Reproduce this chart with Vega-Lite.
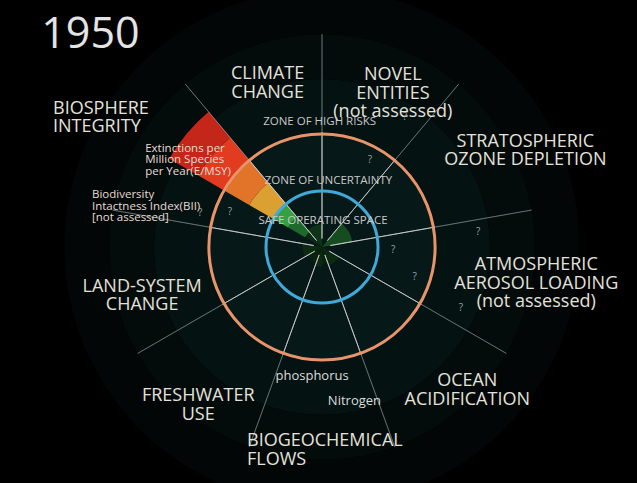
{
  "$schema": "https://vega.github.io/schema/vega-lite/v6.json",
  "width": 637,
  "height": 483,
  "autosize": {"type": "fit", "contains": "padding"},
  "padding": {"left": 7, "top": 11, "right": 0, "bottom": 0},
  "background": "#000000",
  "config": {"view": {"stroke": null}, "font": "Open Sans"},
  "datasets": {
    "backdrop": [
      {"zone": "inner", "r0": 0, "r1": 2.05},
      {"zone": "middle", "r0": 2.05, "r1": 3.0},
      {"zone": "outer", "r0": 3.0, "r1": 3.8},
      {"zone": "edge", "r0": 3.8, "r1": 4.6}
    ],
    "segments": [
      {"boundary": "Biosphere integrity E/MSY", "t0": 300, "t1": 320, "r0": 0, "r1": 0.35},
      {"boundary": "Biosphere integrity E/MSY", "t0": 300, "t1": 320, "r0": 0.35, "r1": 0.7},
      {"boundary": "Biosphere integrity E/MSY", "t0": 300, "t1": 320, "r0": 0.7, "r1": 1.0},
      {"boundary": "Biosphere integrity E/MSY", "t0": 300, "t1": 320, "r0": 1.0, "r1": 1.5},
      {"boundary": "Biosphere integrity E/MSY", "t0": 300, "t1": 320, "r0": 1.5, "r1": 2.0},
      {"boundary": "Biosphere integrity E/MSY", "t0": 300, "t1": 320, "r0": 2.0, "r1": 2.55},
      {"boundary": "Biosphere integrity E/MSY", "t0": 300, "t1": 320, "r0": 2.55, "r1": 3.15},
      {"boundary": "Climate change", "t0": 320, "t1": 360, "r0": 0, "r1": 0.4},
      {"boundary": "Stratospheric ozone depletion", "t0": 40, "t1": 80, "r0": 0, "r1": 0.55},
      {"boundary": "Ocean acidification", "t0": 120, "t1": 160, "r0": 0, "r1": 0.35},
      {"boundary": "Nitrogen", "t0": 160, "t1": 180, "r0": 0, "r1": 0.3},
      {"boundary": "Phosphorus", "t0": 180, "t1": 200, "r0": 0, "r1": 0.35},
      {"boundary": "Freshwater use", "t0": 200, "t1": 240, "r0": 0, "r1": 0.3},
      {"boundary": "Land-system change", "t0": 240, "t1": 280, "r0": 0, "r1": 0.35}
    ],
    "spokes": [
      {"angle": 0}, {"angle": 40}, {"angle": 80}, {"angle": 120}, {"angle": 160},
      {"angle": 200}, {"angle": 240}, {"angle": 280}, {"angle": 320}
    ],
    "rings": [
      {"ring": "safe operating space", "r": 1.0},
      {"ring": "zone of high risks", "r": 2.02}
    ],
    "labels": [
      {"text": "1950", "kind": "year", "angle": 312.5, "dist": 5.61},
      {"text": "CLIMATE\nCHANGE", "kind": "main", "angle": 342.5, "dist": 3.23},
      {"text": "NOVEL\nENTITIES\n(not assessed)", "kind": "main", "angle": 22.4, "dist": 3.32},
      {"text": "STRATOSPHERIC\nOZONE DEPLETION", "kind": "main", "angle": 62.6, "dist": 4.09},
      {"text": "ATMOSPHERIC\nAEROSOL LOADING\n(not assessed)", "kind": "main", "angle": 94.9, "dist": 3.84},
      {"text": "OCEAN\nACIDIFICATION", "kind": "main", "angle": 132.7, "dist": 3.53},
      {"text": "FRESHWATER\nUSE", "kind": "main", "angle": 219.7, "dist": 3.46},
      {"text": "LAND-SYSTEM\nCHANGE", "kind": "main", "angle": 257.5, "dist": 3.29},
      {"text": "BIOGEOCHEMICAL\nFLOWS", "kind": "mainleft", "angle": 201.1, "dist": 3.72},
      {"text": "BIOSPHERE\nINTEGRITY", "kind": "mainleft", "angle": 297.2, "dist": 5.4},
      {"text": "Extinctions per\nMillion Species\nper Year(E/MSY)", "kind": "note", "angle": 299.0, "dist": 3.61},
      {"text": "Biodiversity\nIntactness Index(BII)\n[not assessed]", "kind": "note", "angle": 282.7, "dist": 4.21},
      {"text": "phosphorus", "kind": "minor", "angle": 184.4, "dist": 2.31},
      {"text": "Nitrogen", "kind": "minor", "angle": 168.1, "dist": 2.81},
      {"text": "ZONE OF HIGH RISKS", "kind": "zone", "angle": 358.9, "dist": 2.23},
      {"text": "ZONE OF UNCERTAINTY", "kind": "zone", "angle": 5.6, "dist": 1.18},
      {"text": "SAFE OPERATING SPACE", "kind": "zone", "angle": 2.2, "dist": 0.46},
      {"text": "?", "kind": "q", "angle": 32.6, "dist": 2.75},
      {"text": "?", "kind": "q", "angle": 28.9, "dist": 1.77},
      {"text": "?", "kind": "q", "angle": 92.4, "dist": 1.27},
      {"text": "?", "kind": "q", "angle": 107.9, "dist": 1.74},
      {"text": "?", "kind": "q", "angle": 113.7, "dist": 2.71},
      {"text": "?", "kind": "q", "angle": 84.5, "dist": 2.8},
      {"text": "?", "kind": "q", "angle": 290.8, "dist": 1.76},
      {"text": "?", "kind": "q", "angle": 285.6, "dist": 2.26}
    ]
  },
  "layer": [
    {
      "data": {"name": "backdrop"},
      "mark": {"type": "arc"},
      "encoding": {
        "theta": {"datum": 0, "type": "quantitative", "stack": null, "scale": {"type": "linear", "domain": [0, 360], "range": [0, 6.283185307179586]}},
        "theta2": {"datum": 360},
        "radius": {"field": "r1", "type": "quantitative", "stack": null, "scale": {"type": "linear", "domain": [0, 6], "range": [0, 336], "zero": true}},
        "radius2": {"field": "r0"},
        "fill": {"field": "zone", "type": "nominal", "scale": {"domain": ["inner", "middle", "outer", "edge"], "range": ["#061818", "#041212", "#030b0b", "#020606"]}, "legend": null}
      }
    },
    {
      "data": {"name": "segments"},
      "mark": {"type": "arc"},
      "encoding": {
        "theta": {"field": "t0", "type": "quantitative", "stack": null},
        "theta2": {"field": "t1"},
        "radius": {"field": "r1", "type": "quantitative", "stack": null},
        "radius2": {"field": "r0"},
        "color": {"field": "r1", "type": "quantitative", "scale": {"domain": [0.35, 0.7, 1.0, 1.5, 2.0, 2.55, 3.15], "range": ["#0c2a12", "#1e6a2a", "#34a040", "#dca032", "#e2742a", "#e23c20", "#c42619"]}, "legend": null}
      }
    },
    {
      "data": {"name": "spokes"},
      "mark": {"type": "arc", "filled": false, "stroke": "#d8d8d8", "strokeWidth": 1, "opacity": 0.7},
      "encoding": {
        "theta": {"field": "angle", "type": "quantitative", "stack": null},
        "theta2": {"field": "angle"},
        "radius": {"datum": 2.05, "type": "quantitative", "stack": null},
        "radius2": {"datum": 0.15}
      }
    },
    {
      "data": {"name": "spokes"},
      "mark": {"type": "arc", "filled": false, "stroke": "#a8b8b8", "strokeWidth": 1, "opacity": 0.35},
      "encoding": {
        "theta": {"field": "angle", "type": "quantitative", "stack": null},
        "theta2": {"field": "angle"},
        "radius": {"datum": 3.8, "type": "quantitative", "stack": null},
        "radius2": {"datum": 2.05}
      }
    },
    {
      "data": {"name": "rings"},
      "mark": {"type": "arc", "filled": false, "strokeWidth": 3},
      "encoding": {
        "theta": {"datum": 0, "type": "quantitative", "stack": null},
        "theta2": {"datum": 360},
        "radius": {"field": "r", "type": "quantitative", "stack": null},
        "stroke": {"field": "ring", "type": "nominal", "scale": {"domain": ["safe operating space", "zone of high risks"], "range": ["#3fa9d8", "#e8946a"]}, "legend": null}
      }
    },
    {
      "data": {"name": "labels"},
      "transform": [{"filter": "datum.kind === 'year'"}],
      "mark": {"type": "text", "fontSize": 43, "color": "#e4e4e4", "align": "center", "baseline": "middle"},
      "encoding": {
        "theta": {"field": "angle", "type": "quantitative", "stack": null},
        "radius": {"field": "dist", "type": "quantitative", "stack": null},
        "text": {"field": "text"}
      }
    },
    {
      "data": {"name": "labels"},
      "transform": [{"filter": "datum.kind === 'main'"}],
      "mark": {"type": "text", "fontSize": 18, "lineHeight": 18.5, "lineBreak": "\n", "color": "#e4e2dc", "align": "center", "baseline": "middle"},
      "encoding": {
        "theta": {"field": "angle", "type": "quantitative", "stack": null},
        "radius": {"field": "dist", "type": "quantitative", "stack": null},
        "text": {"field": "text"}
      }
    },
    {
      "data": {"name": "labels"},
      "transform": [{"filter": "datum.kind === 'mainleft'"}],
      "mark": {"type": "text", "fontSize": 18, "lineHeight": 18.5, "lineBreak": "\n", "color": "#e4e2dc", "align": "left", "baseline": "middle"},
      "encoding": {
        "theta": {"field": "angle", "type": "quantitative", "stack": null},
        "radius": {"field": "dist", "type": "quantitative", "stack": null},
        "text": {"field": "text"}
      }
    },
    {
      "data": {"name": "labels"},
      "transform": [{"filter": "datum.kind === 'note'"}],
      "mark": {"type": "text", "fontSize": 11.5, "lineHeight": 11.5, "lineBreak": "\n", "color": "#e8dcd4", "align": "left", "baseline": "middle"},
      "encoding": {
        "theta": {"field": "angle", "type": "quantitative", "stack": null},
        "radius": {"field": "dist", "type": "quantitative", "stack": null},
        "text": {"field": "text"}
      }
    },
    {
      "data": {"name": "labels"},
      "transform": [{"filter": "datum.kind === 'minor'"}],
      "mark": {"type": "text", "fontSize": 13, "color": "#dcdcdc", "align": "center", "baseline": "middle"},
      "encoding": {
        "theta": {"field": "angle", "type": "quantitative", "stack": null},
        "radius": {"field": "dist", "type": "quantitative", "stack": null},
        "text": {"field": "text"}
      }
    },
    {
      "data": {"name": "labels"},
      "transform": [{"filter": "datum.kind === 'zone'"}],
      "mark": {"type": "text", "fontSize": 11.5, "color": "#c8c8c8", "align": "center", "baseline": "middle"},
      "encoding": {
        "theta": {"field": "angle", "type": "quantitative", "stack": null},
        "radius": {"field": "dist", "type": "quantitative", "stack": null},
        "text": {"field": "text"}
      }
    },
    {
      "data": {"name": "labels"},
      "transform": [{"filter": "datum.kind === 'q'"}],
      "mark": {"type": "text", "fontSize": 10, "color": "#9aa4a4", "align": "center", "baseline": "middle"},
      "encoding": {
        "theta": {"field": "angle", "type": "quantitative", "stack": null},
        "radius": {"field": "dist", "type": "quantitative", "stack": null},
        "text": {"field": "text"}
      }
    }
  ]
}
